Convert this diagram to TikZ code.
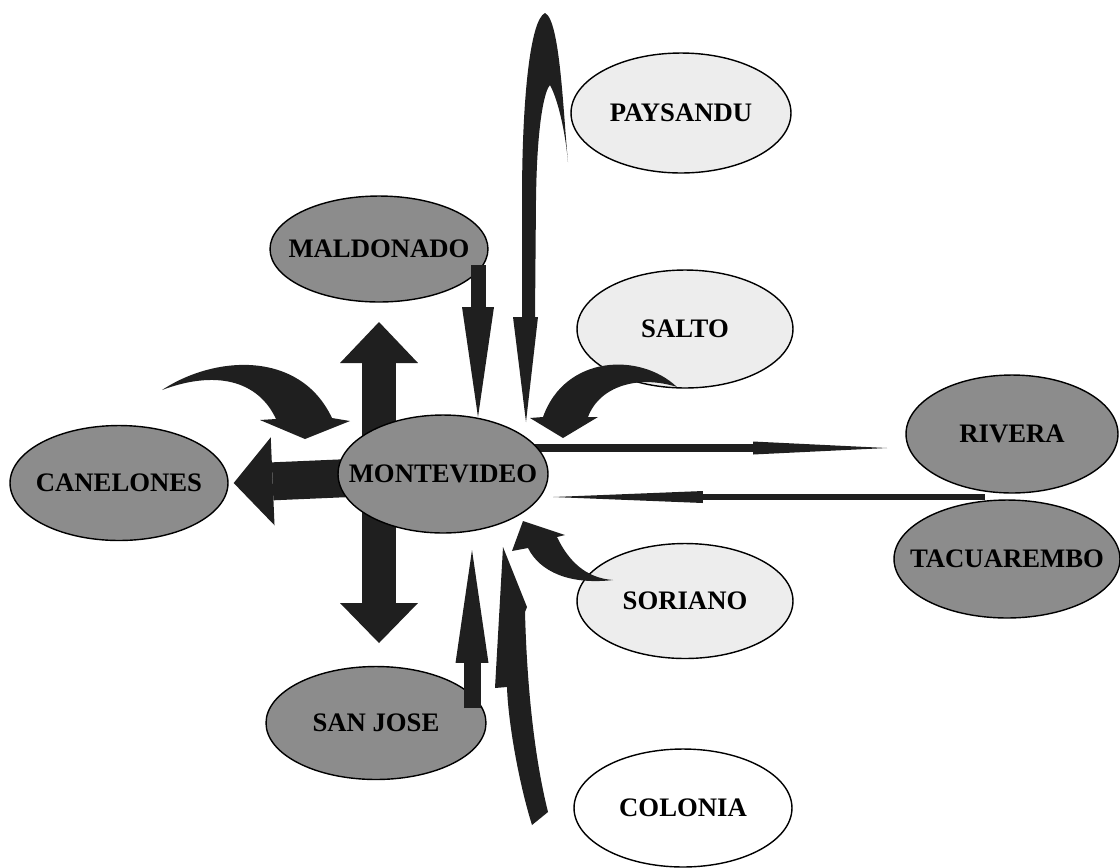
\documentclass[tikz,border=0pt]{standalone}
\usepackage{fontspec}
\setmainfont{Liberation Serif}
\usetikzlibrary{arrows.meta,shapes.geometric,backgrounds}

\tikzset{
  city/.style={draw, ellipse, line width=0.8pt, inner sep=0pt,
    font=\bfseries\fontsize{15.2}{17}\selectfont},
  dark/.style={city, fill=black!45},
  light/.style={city, fill=black!7},
  plain/.style={city, fill=white},
  blk/.style={fill=black!88},
  flow/.style={draw=black!88},
}
\newcommand{\cname}[1]{\makebox[0pt]{#1}}

\begin{document}
\begin{tikzpicture}[x=0.02cm, y=-0.02cm]
\useasboundingbox (0,0) rectangle (1120,867);

% departments
\node[dark, minimum width=4.2cm, minimum height=2.36cm] (mvd) at (443,474) {\cname{MONTEVIDEO}};
\node[dark, minimum width=4.36cm, minimum height=2.3cm] (can) at (119,483) {\cname{CANELONES}};
\node[dark, minimum width=4.36cm, minimum height=2.12cm] (mal) at (379,249) {\cname{MALDONADO}};
\node[light, minimum width=4.4cm, minimum height=2.4cm] (pay) at (681,113) {\cname{PAYSANDU}};
\node[light, minimum width=4.32cm, minimum height=2.36cm] (sal) at (685,329) {\cname{SALTO}};
\node[dark, minimum width=4.24cm, minimum height=2.36cm] (riv) at (1012,434) {\cname{RIVERA}};
\node[dark, minimum width=4.52cm, minimum height=2.36cm] (tac) at (1007,559) {\cname{TACUAREMBO}};
\node[light, minimum width=4.32cm, minimum height=2.3cm] (sor) at (685,601) {\cname{SORIANO}};
\node[dark, minimum width=4.4cm, minimum height=2.26cm] (sjo) at (376,723) {\cname{SAN JOSE}};
\node[plain, minimum width=4.36cm, minimum height=2.36cm] (col) at (683,808) {\cname{COLONIA}};

% arrow ends
\coordinate (mal-out) at (478,265);
\coordinate (mal-in) at (478,417);
\coordinate (sjo-out) at (472,708);
\coordinate (sjo-in) at (472,550);
\coordinate (up) at (379,322);
\coordinate (down) at (379,643);
\coordinate (riv-out) at (443,448);
\coordinate (riv-in) at (887,448);
\coordinate (tac-out) at (985,497);
\coordinate (tac-in) at (553,497);

\begin{pgfonlayer}{background}
\draw[flow, line width=0.7cm,
  {Triangle[length=0.82cm, width=1.56cm, line width=0pt]}-{Triangle[length=0.8cm, width=1.56cm, line width=0pt]}]
  (up) -- (down);
\draw[flow, line width=0.76cm, -{Triangle[length=0.78cm, width=1.76cm, line width=0pt]}]
  (mvd.center) -- ([xshift=0.1cm]can.east);
\draw[flow, line width=0.16cm, -{Triangle[length=2.68cm, width=0.26cm, line width=0pt]}]
  (riv-out) -- (riv-in);
\draw[flow, line width=0.12cm, -{Triangle[length=3cm, width=0.24cm, line width=0pt]}]
  (tac-out) -- (tac-in);
\end{pgfonlayer}

\draw[flow, line width=0.3cm, -{Triangle[length=2.2cm, width=0.64cm, line width=0pt]}]
  (mal-out) -- (mal-in);
\draw[flow, line width=0.34cm, -{Triangle[length=2.26cm, width=0.66cm, line width=0pt]}]
  (sjo-out) -- (sjo-in);

% curved arrows
\fill[blk] (162,390) .. controls (215,355) and (300,350) .. (332,418)
  -- (350,421) -- (305,439) -- (260,420) -- (276,419)
  .. controls (258,380) and (215,370) .. cycle;
\fill[blk] (677,387) .. controls (640,352) and (565,355) .. (543,417)
  -- (530,418) -- (563,438) -- (598,417) -- (588,417)
  .. controls (600,385) and (640,375) .. cycle;
\fill[blk] (613,580) .. controls (585,578) and (568,560) .. (557,537)
  -- (565,535) -- (523,521) -- (512,551) -- (528,548)
  .. controls (540,572) and (570,585) .. cycle;
\fill[blk] (535,317) -- (536,200) .. controls (537,120) and (545,90) .. (550,85)
  .. controls (558,100) and (565,130) .. (568,162)
  .. controls (563,110) and (560,20) .. (545,13)
  .. controls (530,20) and (522,100) .. (522,200)
  -- (522,317) -- (513,317) -- (526,422) -- (538,317) -- cycle;
\fill[blk] (532,825) .. controls (518,780) and (508,720) .. (507,687)
  -- (495,688) -- (503,547) -- (527,607) -- (525,612)
  .. controls (527,690) and (535,760) .. (548,812) -- cycle;
\end{tikzpicture}
\end{document}
